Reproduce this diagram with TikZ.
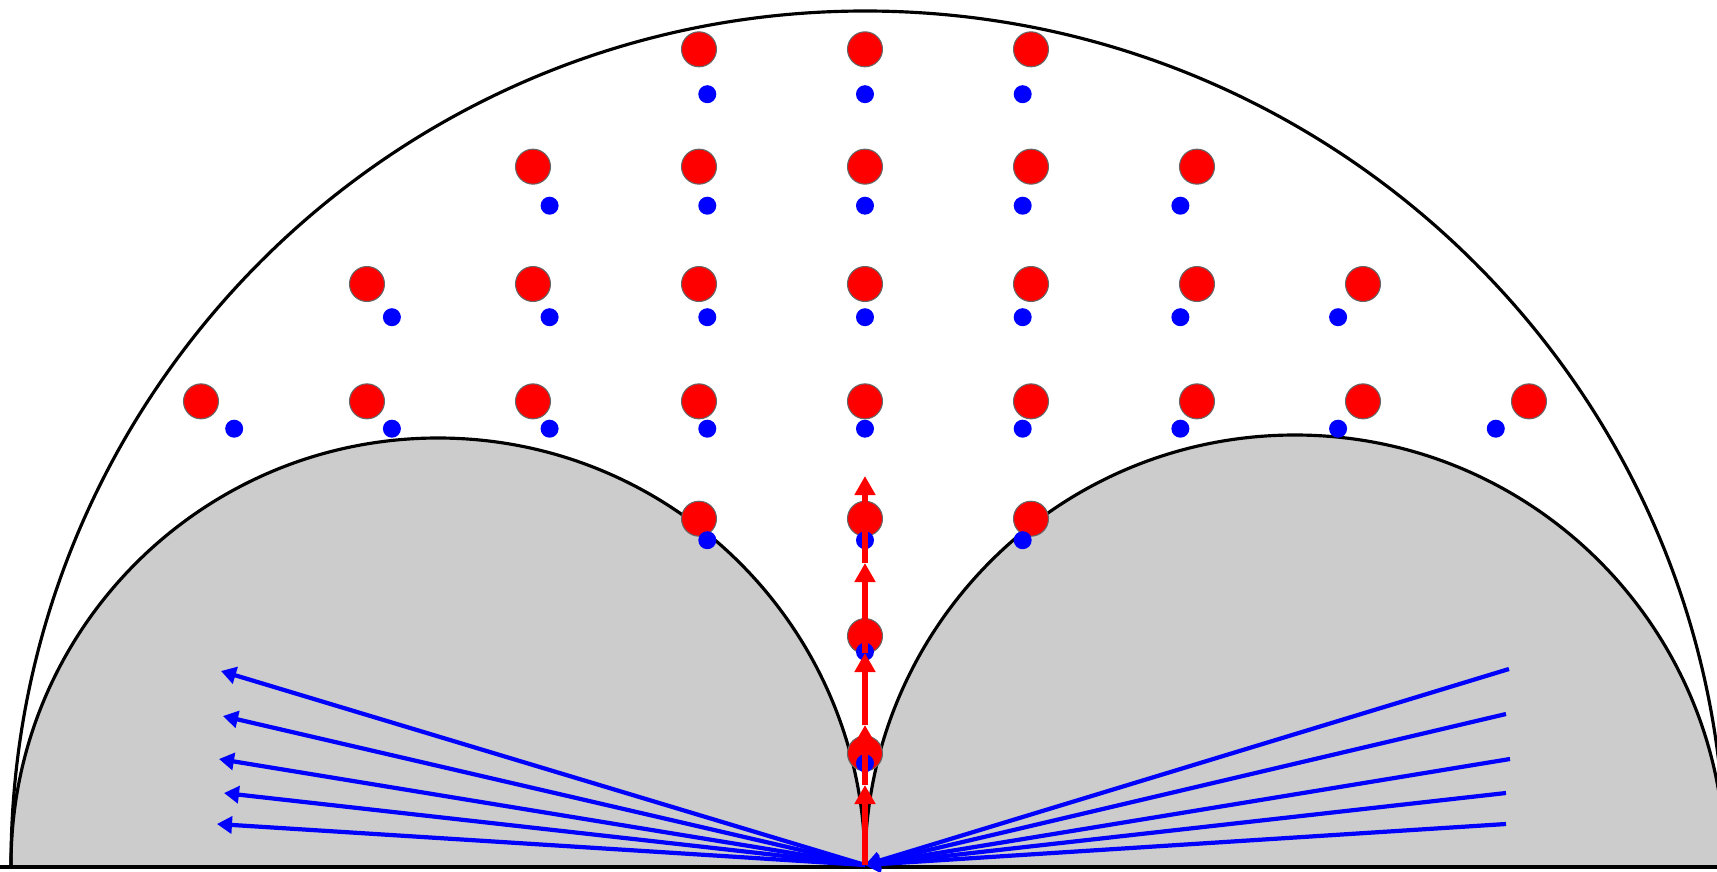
\documentclass[tikz,border=0pt]{standalone}
\usepackage{tikz}
\usetikzlibrary{arrows.meta}

\begin{document}
\begin{tikzpicture}[
  reddot/.style={circle, fill=red, draw=black!60, line width=0.3pt, inner sep=0, minimum size=0.35cm},
  bluedot/.style={circle, fill=blue, inner sep=0, minimum size=0.18cm},
  flow/.style={blue, line width=1.2pt, -{Triangle[length=1.5mm, width=1.7mm]}},
  lift/.style={red, line width=1.6pt, -{Triangle[length=1.9mm, width=2mm]}},
  rim/.style={black, line width=0.9pt}]
\useasboundingbox (-8.65,-0.06) rectangle (8.52,8.65);
\clip (-8.65,-0.06) rectangle (8.52,8.65);

\fill[black!20] (-8.54,0) arc[start angle=180, end angle=0, radius=4.27] -- cycle;
\fill[black!20] (0,0) arc[start angle=180, end angle=0, radius=4.3] -- cycle;
\draw[rim] (-8.54,0) arc[start angle=180, end angle=0, radius=4.27];
\draw[rim] (0,0) arc[start angle=180, end angle=0, radius=4.3];
\draw[rim] (-8.54,0) arc[start angle=180, end angle=90, radius=8.54]
  arc[start angle=90, end angle=0, x radius=8.6, y radius=8.54];
\draw[line width=1.2pt] (-8.65,-0.02) -- (8.52,-0.02);

\coordinate (O) at (0,0);

% rows from the bottom: row/half width
\foreach \j/\n in {1/0,2/0,3/1,4/4,5/3,6/2,7/1}
  \foreach \k in {-\n,...,\n}
    \node[reddot] (r\j\k) at ({1.66*\k}, {1.116+1.1735*(\j-1)}) {};
\foreach \j/\n in {1/0,2/0,3/1,4/4,5/3,6/2,7/1}
  \foreach \k in {-\n,...,\n}
    \node[bluedot] (b\j\k) at ({1.577*\k}, {1.018+1.115*(\j-1)}) {};

\foreach \x/\y [count=\i] in {-6.44/1.94,-6.42/1.49,-6.46/1.06,-6.41/0.72,-6.48/0.41} {
  \coordinate (w\i) at (\x,\y);
  \draw[flow] (O) -- (w\i);
}
\foreach \x/\y [count=\i] in {6.44/1.96,6.41/1.51,6.45/1.06,6.41/0.72,6.41/0.41} {
  \coordinate (e\i) at (\x,\y);
  \draw[flow] (e\i) -- (O);
}

\foreach \h [count=\i] in {0.80,1.40,2.12,3.02,3.89}
  \coordinate (a\i) at (0,\h);
\foreach \p/\q in {O/a1,a1/a2,a2/a3,a3/a4,a4/a5}
  \draw[lift] (\p) -- (\q);
\end{tikzpicture}
\end{document}
